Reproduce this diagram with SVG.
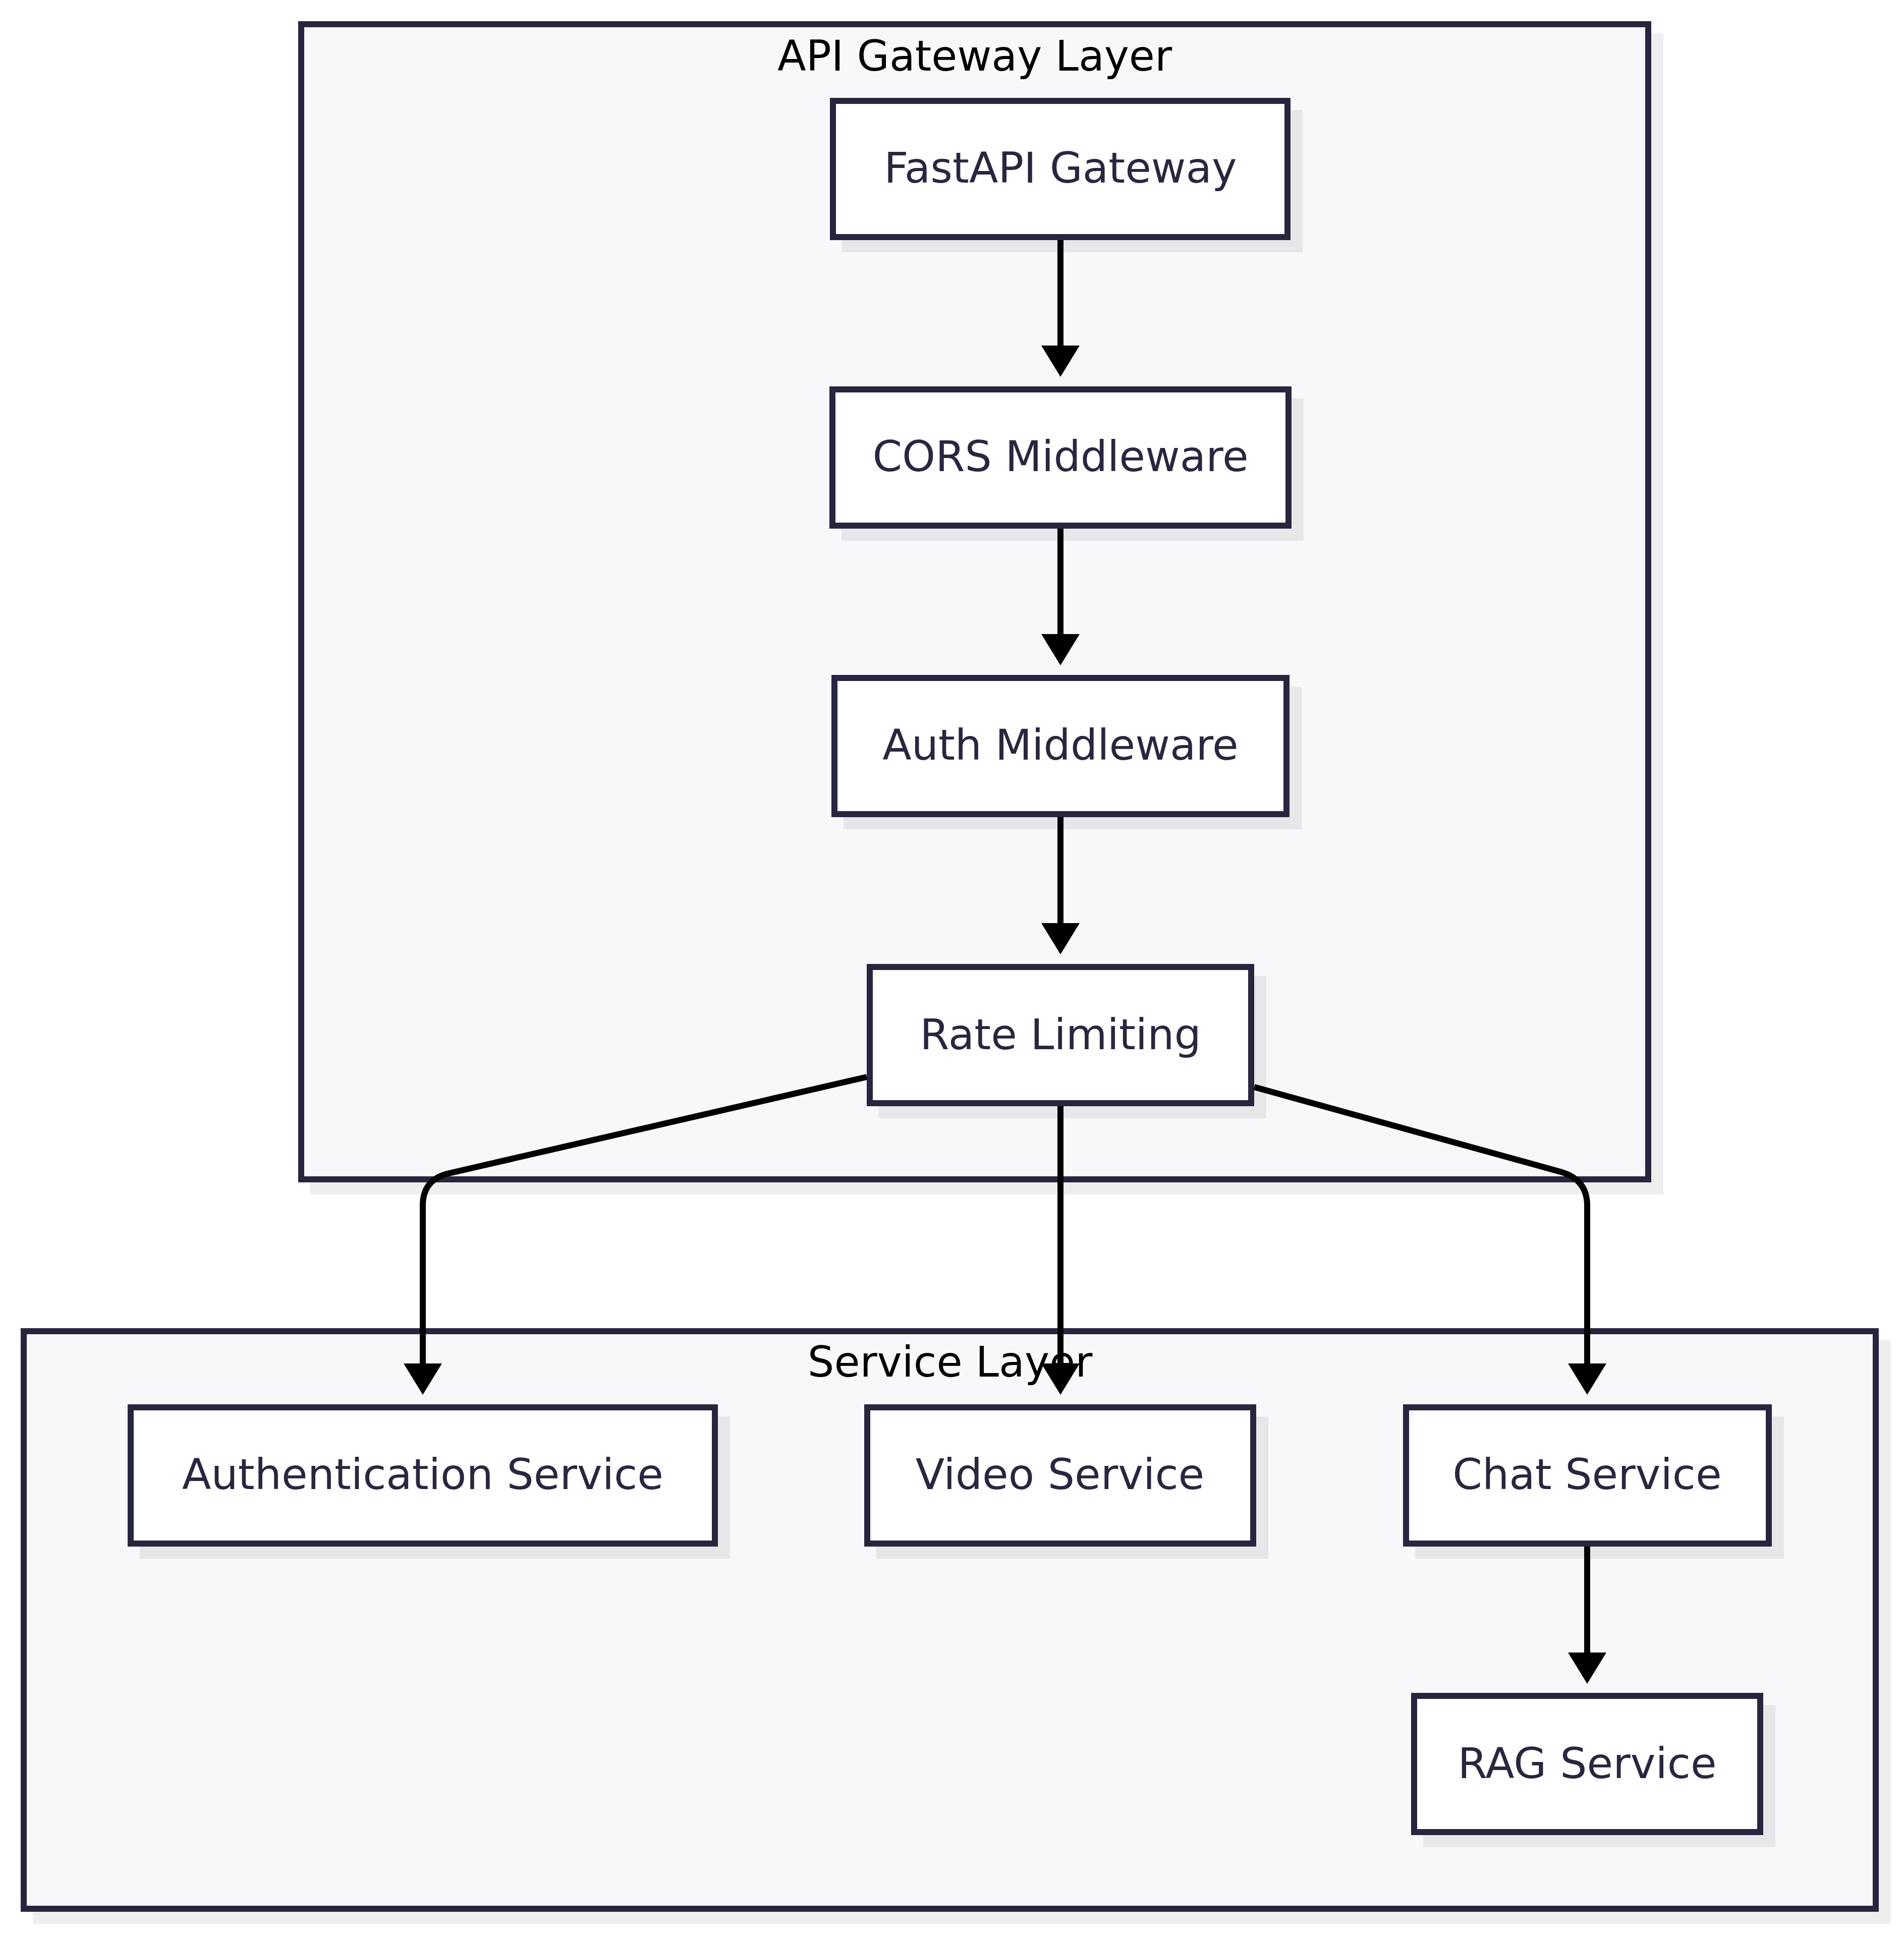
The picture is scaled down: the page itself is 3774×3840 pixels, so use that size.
<svg xmlns="http://www.w3.org/2000/svg" width="3774" height="3840" viewBox="0 0 3774 3840">
<style>
.grp{fill:#f8f8fa;stroke:#27263e;stroke-width:12}
.shadow{fill:#000;fill-opacity:0.065;stroke:none}
.node{fill:#ffffff;stroke:#27263e;stroke-width:12}
.ntext{font-family:"DejaVu Sans","Liberation Sans",sans-serif;font-size:84px;fill:#28273f;text-anchor:middle}
.gtext{font-family:"DejaVu Sans","Liberation Sans",sans-serif;font-size:83px;fill:#000000;text-anchor:middle}
.edge{fill:none;stroke:#000000;stroke-width:12;marker-end:url(#arrow)}
</style>
<defs>
<marker id="arrow" viewBox="0 -38 62 76" refX="0" refY="0" markerWidth="62" markerHeight="76" markerUnits="userSpaceOnUse" orient="auto">
<path d="M0,-38 L62,0 L0,38 Z" fill="#000000"/>
</marker>
</defs>
<rect width="3774" height="3840" fill="#ffffff"/>
<g id="cluster-api-gateway-layer">
<rect class="shadow" x="615" y="66" width="2682" height="2302"/>
<rect class="grp" x="597" y="48" width="2670" height="2290"/>
<text class="gtext" x="1932" y="140">API Gateway Layer</text>
</g>
<g id="cluster-service-layer">
<rect class="shadow" x="65" y="2657" width="3683" height="1157"/>
<rect class="grp" x="47" y="2639" width="3671" height="1145"/>
<text class="gtext" x="1883" y="2729">Service Layer</text>
</g>
<g id="node-fastapi-gateway">
<rect class="shadow" x="1669" y="218" width="913" height="282"/>
<rect class="node" x="1651" y="200" width="901" height="270"/>
<text class="ntext" x="2102" y="362">FastAPI Gateway</text>
</g>
<g id="node-cors-middleware">
<rect class="shadow" x="1668" y="790" width="916" height="282"/>
<rect class="node" x="1650" y="772" width="904" height="270"/>
<text class="ntext" x="2102" y="934">CORS Middleware</text>
</g>
<g id="node-auth-middleware">
<rect class="shadow" x="1672" y="1362" width="908" height="282"/>
<rect class="node" x="1654" y="1344" width="896" height="270"/>
<text class="ntext" x="2102" y="1506">Auth Middleware</text>
</g>
<g id="node-rate-limiting">
<rect class="shadow" x="1742" y="1935" width="768" height="282"/>
<rect class="node" x="1724" y="1917" width="756" height="270"/>
<text class="ntext" x="2102" y="2080">Rate Limiting</text>
</g>
<g id="node-authentication-service">
<rect class="shadow" x="277" y="2808" width="1170" height="282"/>
<rect class="node" x="259" y="2790" width="1158" height="270"/>
<text class="ntext" x="838" y="2952">Authentication Service</text>
</g>
<g id="node-video-service">
<rect class="shadow" x="1737" y="2808" width="777" height="282"/>
<rect class="node" x="1719" y="2790" width="765" height="270"/>
<text class="ntext" x="2101" y="2952">Video Service</text>
</g>
<g id="node-chat-service">
<rect class="shadow" x="2805" y="2808" width="731" height="282"/>
<rect class="node" x="2787" y="2790" width="719" height="270"/>
<text class="ntext" x="3146" y="2952">Chat Service</text>
</g>
<g id="node-rag-service">
<rect class="shadow" x="2821" y="3380" width="698" height="282"/>
<rect class="node" x="2803" y="3362" width="686" height="270"/>
<text class="ntext" x="3146" y="3525">RAG Service</text>
</g>
<g id="edges">
<path class="edge" d="M2102,476 L2102,685"/>
<path class="edge" d="M2102,1048 L2102,1257"/>
<path class="edge" d="M2102,1620 L2102,1830"/>
<path class="edge" d="M1718,2135 L890,2326 Q838,2338 838,2390 L838,2703"/>
<path class="edge" d="M2102,2193 L2102,2703"/>
<path class="edge" d="M2486,2155 L3093,2323 Q3146,2338 3146,2390 L3146,2703"/>
<path class="edge" d="M3146,3066 L3146,3276"/>
</g>
</svg>
